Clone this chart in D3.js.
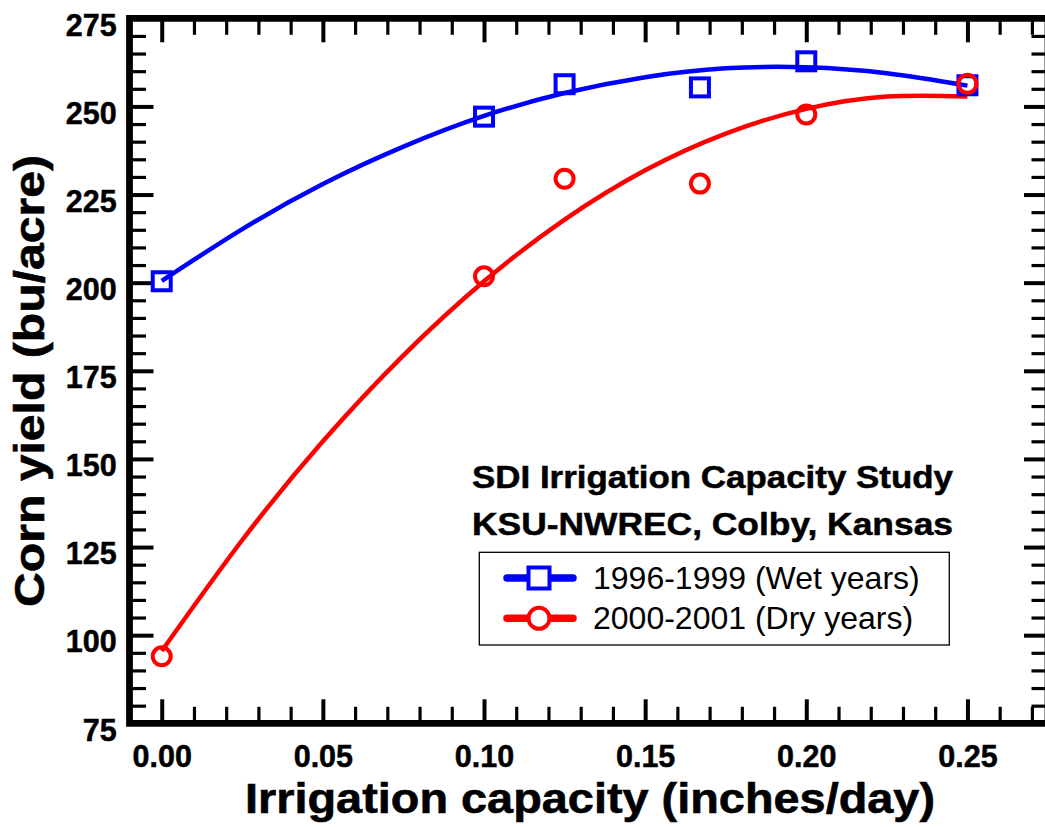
<!DOCTYPE html>
<html>
<head>
<meta charset="utf-8">
<script src="https://cdn.jsdelivr.net/npm/d3@7"></script>
<style>
  html, body { margin: 0; padding: 0; background: #fff; }
  svg { display: block; }
  text { font-family: "Liberation Sans", Arial, sans-serif; }
</style>
</head>
<body>
<svg id="chart" width="1045" height="827"></svg>
<script>
// ---- data ----
const capacity = [0, 0.10, 0.125, 0.167, 0.20, 0.25];           // inches/day
const wetYield = [200.4, 247.1, 256.3, 255.4, 262.8, 256.0];    // 1996-1999
const dryYield = [94.0, 201.8, 229.5, 228.1, 247.7, 256.4];     // 2000-2001
// fitted curves
const fitCapacity = [0, 0.025, 0.05, 0.075, 0.10, 0.125, 0.15, 0.175, 0.20, 0.225, 0.25];
const wetFit = [200.5, 215.2, 228.0, 238.6, 247.3, 253.8, 258.3, 260.8, 261.1, 259.4, 255.9];
const dryFit = [95.5, 127.0, 155.0, 179.4, 200.4, 217.9, 231.9, 242.3, 249.3, 252.8, 252.8];
const xTickValues = [0, 0.05, 0.10, 0.15, 0.20, 0.25];
const xTickLabels = ["0.00", "0.05", "0.10", "0.15", "0.20", "0.25"];
const yTickValues = [75, 100, 125, 150, 175, 200, 225, 250, 275];
const seriesNames = ["1996-1999 (Wet years)", "2000-2001 (Dry years)"];
const titleLines = ["SDI Irrigation Capacity Study", "KSU-NWREC, Colby, Kansas"];
const xTitle = "Irrigation capacity (inches/day)";
const yTitle = "Corn yield (bu/acre)";

const BLUE = "#0000ff", RED = "#ff0000";
const svg = d3.select("#chart");

const x = d3.scaleLinear().domain([-0.01, 0.275]).range([129.5, 1048]);
const y = d3.scaleLinear().domain([75, 275]).range([723.3, 18.3]);
const X0 = x.range()[0], X1 = x.range()[1], Y0 = y.range()[0], Y1 = y.range()[1];

// minor tick values
const xMinor = d3.range(0, 28).map(i => +(i * 0.01).toFixed(2)).filter(v => !xTickValues.some(t => Math.abs(t - v) < 1e-9));
const yMinor = d3.range(80, 275, 5).filter(v => v % 25 !== 0);

const MAJ = 24, MIN = 16.5;
const FONT = '"Liberation Sans", Arial, sans-serif';
function styleAxis(g, w) {
  g.select(".domain").remove();
  g.selectAll(".tick line").attr("stroke", "#000").attr("stroke-width", w);
}
// bottom
svg.append("g").attr("transform", `translate(0,${Y0})`)
  .call(d3.axisBottom(x).tickValues(xMinor).tickSize(-MIN).tickFormat(""))
  .call(g => styleAxis(g, 3.2));
svg.append("g").attr("transform", `translate(0,${Y0})`)
  .call(d3.axisBottom(x).tickValues(xTickValues).tickSize(-MAJ).tickPadding(22.5)
    .tickFormat((d, i) => xTickLabels[i]))
  .call(g => styleAxis(g, 4))
  .call(g => g.selectAll("text").attr("fill", "#000").attr("font-size", 30.5).attr("font-weight", "bold")
    .attr("font-family", FONT).attr("stroke", "#000").attr("stroke-width", 0.5));
// top
svg.append("g").attr("transform", `translate(0,${Y1})`)
  .call(d3.axisTop(x).tickValues(xMinor).tickSize(-MIN).tickFormat(""))
  .call(g => styleAxis(g, 3.2));
svg.append("g").attr("transform", `translate(0,${Y1})`)
  .call(d3.axisTop(x).tickValues(xTickValues).tickSize(-MAJ).tickFormat(""))
  .call(g => styleAxis(g, 4));
// left
svg.append("g").attr("transform", `translate(${X0},0)`)
  .call(d3.axisLeft(y).tickValues(yMinor).tickSize(-MIN).tickFormat(""))
  .call(g => styleAxis(g, 3.2));
svg.append("g").attr("transform", `translate(${X0},0)`)
  .call(d3.axisLeft(y).tickValues(yTickValues).tickSize(-MAJ).tickPadding(12.8).tickFormat(d3.format("d")))
  .call(g => styleAxis(g, 4))
  .call(g => g.selectAll("text").attr("fill", "#000").attr("font-size", 30.5).attr("font-weight", "bold")
    .attr("dy", "0.55em").attr("font-family", FONT).attr("stroke", "#000").attr("stroke-width", 0.5));
// right
svg.append("g").attr("transform", `translate(${X1},0)`)
  .call(d3.axisRight(y).tickValues(yMinor).tickSize(-MIN).tickFormat(""))
  .call(g => styleAxis(g, 3.2));
svg.append("g").attr("transform", `translate(${X1},0)`)
  .call(d3.axisRight(y).tickValues(yTickValues).tickSize(-MAJ).tickFormat(""))
  .call(g => styleAxis(g, 4));

// frame
svg.append("path")
  .attr("d", `M${X0},${Y1}H${X1}V${Y0}H${X0}Z`)
  .attr("fill", "none").attr("stroke", "#000").attr("stroke-width", 6.8)
  .attr("stroke-linejoin", "miter");

// fitted curves
const line = d3.line().x((d, i) => x(fitCapacity[i])).y(d => y(d)).curve(d3.curveNatural);
svg.append("path").attr("d", line(wetFit)).attr("fill", "none").attr("stroke", BLUE).attr("stroke-width", 4.5);
svg.append("path").attr("d", line(dryFit)).attr("fill", "none").attr("stroke", RED).attr("stroke-width", 4.5);

// markers
const SQ = 18;
svg.append("g").selectAll("rect").data(wetYield).join("rect")
  .attr("x", (d, i) => x(capacity[i]) - SQ / 2).attr("y", d => y(d) - SQ / 2)
  .attr("width", SQ).attr("height", SQ)
  .attr("fill", "none").attr("stroke", BLUE).attr("stroke-width", 4);
svg.append("g").selectAll("circle").data(dryYield).join("circle")
  .attr("cx", (d, i) => x(capacity[i])).attr("cy", d => y(d)).attr("r", 9)
  .attr("fill", "none").attr("stroke", RED).attr("stroke-width", 4);

// axis titles
svg.append("text").text(xTitle)
  .attr("x", 590).attr("y", 813).attr("text-anchor", "middle")
  .attr("font-size", 42).attr("font-weight", "bold")
  .attr("stroke", "#000").attr("stroke-width", 0.6)
  .attr("textLength", 690).attr("lengthAdjust", "spacingAndGlyphs");
svg.append("text").text(yTitle)
  .attr("transform", "translate(43.5,381) rotate(-90)").attr("text-anchor", "middle")
  .attr("font-size", 42).attr("font-weight", "bold")
  .attr("stroke", "#000").attr("stroke-width", 0.6)
  .attr("textLength", 452).attr("lengthAdjust", "spacingAndGlyphs");

// legend title
svg.append("g").selectAll("text").data(titleLines).join("text")
  .text(d => d)
  .attr("x", 712.5).attr("y", (d, i) => 488 + i * 47.3).attr("text-anchor", "middle")
  .attr("font-size", 31).attr("font-weight", "bold")
  .attr("stroke", "#000").attr("stroke-width", 0.5)
  .attr("textLength", 481).attr("lengthAdjust", "spacingAndGlyphs");

// legend box
svg.append("rect").attr("x", 479.3).attr("y", 552.3).attr("width", 470).attr("height", 92.7)
  .attr("fill", "#fff").attr("stroke", "#000").attr("stroke-width", 1.3);
const legRows = [578, 618.3];
const legColors = [BLUE, RED];
const lg = svg.append("g");
seriesNames.forEach((name, i) => {
  const cy = legRows[i];
  lg.append("line").attr("x1", 507).attr("x2", 573).attr("y1", cy).attr("y2", cy)
    .attr("stroke", legColors[i]).attr("stroke-width", 7.5).attr("stroke-linecap", "round");
  if (i === 0) {
    lg.append("rect").attr("x", 539 - 10.5).attr("y", cy - 10.5).attr("width", 21).attr("height", 21)
      .attr("fill", "#fff").attr("stroke", BLUE).attr("stroke-width", 4);
  } else {
    lg.append("circle").attr("cx", 539).attr("cy", cy).attr("r", 10.5)
      .attr("fill", "#fff").attr("stroke", RED).attr("stroke-width", 4);
  }
  lg.append("text").text(name).attr("x", 593).attr("y", cy + 11)
    .attr("font-size", 32);
});
</script>
</body>
</html>
